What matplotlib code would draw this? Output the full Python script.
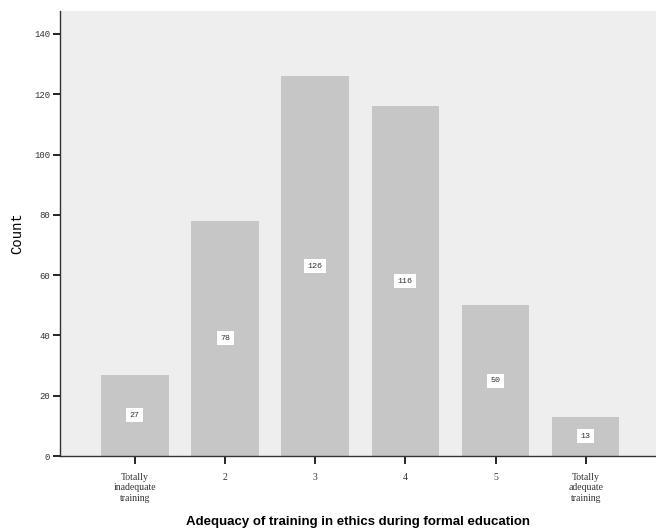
import numpy as np
import matplotlib
matplotlib.use("Agg")
import matplotlib.pyplot as plt

# data
categories = ["Totally\ninadequate\ntraining", "2", "3", "4", "5", "Totally\nadequate\ntraining"]
counts = [27, 78, 126, 116, 50, 13]
y_ticks = [0, 20, 40, 60, 80, 100, 120, 140]

fig = plt.figure(figsize=(6.56, 5.30), dpi=100)
ax = fig.add_axes([0.0915, 0.1396, 0.9085, 0.8396])
ax.set_facecolor("#eeeeee")

x = np.arange(len(counts))
ax.bar(x, counts, width=0.75, color="#c6c6c6", zorder=2)

for xi, c in zip(x, counts):
    ax.text(xi, c / 2, str(c), ha="center", va="center", fontsize=6,
            family="Liberation Mono", color="#333333", zorder=3,
            bbox=dict(facecolor="white", edgecolor="none", pad=2.5))

ax.set_xlim(-0.83, 5.78)
ax.set_ylim(0, 147.6)
ax.set_yticks(y_ticks)
ax.set_yticklabels([str(v) for v in y_ticks], family="Liberation Mono", fontsize=6.5,
                   color="#333333")
ax.set_xticks(x)
ax.set_xticklabels(categories, family="Liberation Serif", fontsize=7, linespacing=1.25,
                   color="#333333")

ax.tick_params(axis="y", length=5, width=1.2, pad=2)
ax.tick_params(axis="x", length=6, width=1.2, pad=6)

for side in ["top", "right"]:
    ax.spines[side].set_visible(False)
for side in ["left", "bottom"]:
    ax.spines[side].set_linewidth(1.0)
    ax.spines[side].set_color("#333333")

ax.set_ylabel("Count", family="Liberation Mono", fontsize=10, labelpad=7)
ax.set_xlabel("Adequacy of training in ethics during formal education",
              family="Liberation Sans", fontweight="bold", fontsize=9.5, labelpad=9)

fig.savefig("out.png", dpi=100)
